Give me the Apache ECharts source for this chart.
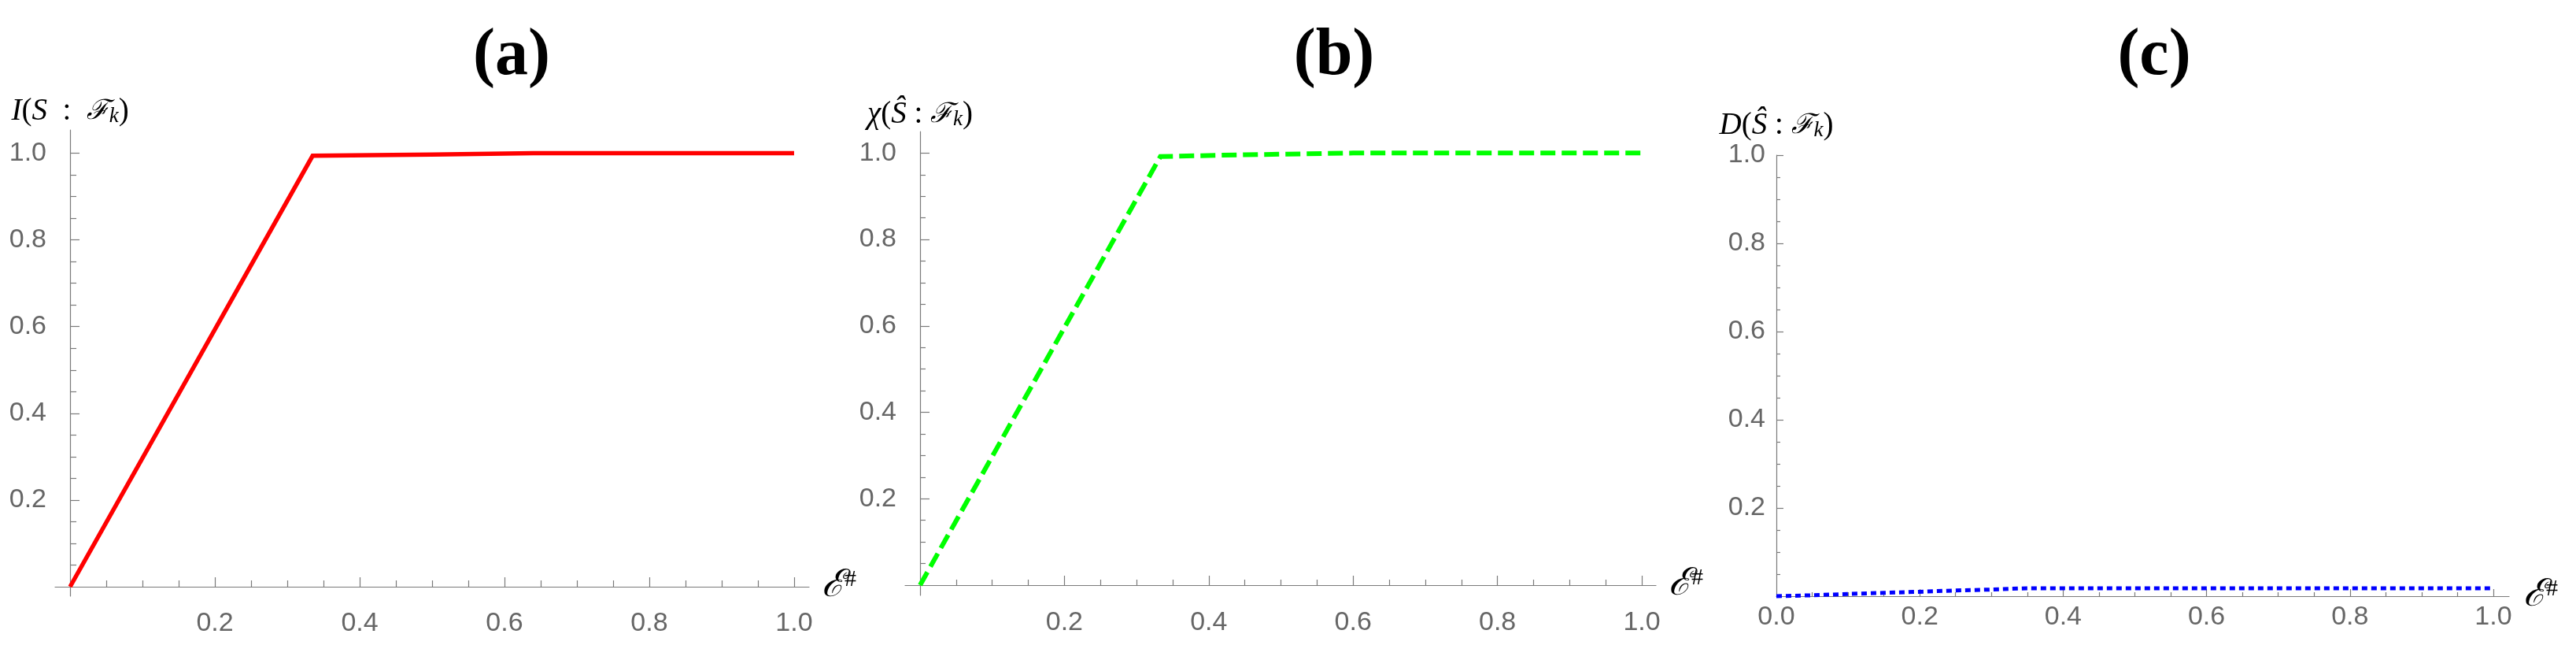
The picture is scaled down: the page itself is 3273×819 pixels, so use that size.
<!DOCTYPE html>
<html>
<head>
<meta charset="utf-8">
<script src="https://cdn.jsdelivr.net/npm/echarts@6/dist/echarts.min.js"></script>
<style>
html,body{margin:0;padding:0;background:#fff;}
#chart{width:3273px;height:819px;}
</style>
</head>
<body>
<div id="chart"></div>
<script>
// ---- data ----
const panelTitles = ['(a)', '(b)', '(c)'];

const redX = [0, 0.335, 0.5, 0.64, 1.0];
const redY = [0, 0.994, 0.997, 1.0, 1.0];

const greenX = [0, 0.333, 0.45, 0.6, 1.0];
const greenY = [0, 0.992, 0.996, 1.0, 1.0];

const blueX = [0, 0.05, 0.1, 0.15, 0.2, 0.25, 0.3, 0.35, 0.5, 0.75, 1.0];
const blueY = [0, 0.002, 0.005, 0.0075, 0.010, 0.013, 0.015, 0.018, 0.018, 0.018, 0.018];

const majorTicks = [0.2, 0.4, 0.6, 0.8, 1.0];
const minorTicks = [0.05, 0.1, 0.15, 0.25, 0.3, 0.35, 0.45, 0.5, 0.55, 0.65, 0.7, 0.75, 0.85, 0.9, 0.95];
const labelsAB = [0.2, 0.4, 0.6, 0.8, 1.0];
const labelsCX = [0, 0.2, 0.4, 0.6, 0.8, 1.0];
const labelsCY = [0.2, 0.4, 0.6, 0.8, 1.0];

function pairs(xs, ys) { return xs.map((x, i) => [x, ys[i]]); }

// ---- styling helpers ----
const GRAY_LINE = '#7a7a7a';
const GRAY_TEXT = '#666666';
const mathRich = {
  i: { fontFamily: '"Liberation Serif","DejaVu Serif",serif', fontStyle: 'italic', fontSize: 39, color: '#000' },
  r: { fontFamily: '"Liberation Serif","DejaVu Serif",serif', fontSize: 39, color: '#000' },
  s: { fontFamily: '"DejaVu Serif","Liberation Serif",serif', fontStyle: 'italic', fontSize: 35, color: '#000' },
  sub: { fontFamily: '"Liberation Serif","DejaVu Serif",serif', fontStyle: 'italic', fontSize: 27, color: '#000', verticalAlign: 'bottom' },
  e: { fontFamily: '"DejaVu Serif","Liberation Serif",serif', fontStyle: 'italic', fontSize: 48, color: '#000' },
  sup: { fontFamily: '"Liberation Serif","DejaVu Serif",serif', fontSize: 30, color: '#000', verticalAlign: 'top' }
};
const xName = '{e|ℰ}{sup|#}';

const panels = [
  { grid: { left: 70, top: 165, width: 958, height: 592 },
    xMin: -0.0207, xMax: 1.0207, yMin: -0.0218, yMax: 1.0536,
    xLabels: labelsAB, yLabels: labelsAB,
    yName: '{i|I}{r|(}{i|S}{r|  :  }{s|ℱ}{sub|k}{r|)}', yNameGap: 4,
    majorLen: 12, minorLen: 8, xLabelMargin: 18, yLabelMargin: 11, xNameGap: 16 },
  { grid: { left: 1150, top: 167, width: 954, height: 589 },
    xMin: -0.0207, xMax: 1.0196, yMin: -0.0237, yMax: 1.0498,
    xLabels: labelsAB, yLabels: labelsAB,
    yName: '{i|χ}{r|(}{i|Ŝ}{r| : }{s|ℱ}{sub|k}{r|)}', yNameGap: 2,
    majorLen: 12, minorLen: 7, xLabelMargin: 18, yLabelMargin: 11, xNameGap: 16 },
  { grid: { left: 2257, top: 197, width: 931, height: 560 },
    xMin: 0, xMax: 1.022, yMin: 0, yMax: 1.0,
    xLabels: labelsCX, yLabels: labelsCY,
    yName: '{i|D}{r|(}{i|Ŝ}{r| : }{s|ℱ}{sub|k}{r|)}', yNameGap: 18,
    majorLen: 9, minorLen: 5, xLabelMargin: 10, yLabelMargin: 14, xNameGap: 18 }
];

const seriesDefs = [
  { data: pairs(redX, redY), color: '#ff0000', width: 5.5, type: 'solid' },
  { data: pairs(greenX, greenY), color: '#00ff00', width: 6, type: [19, 8] },
  { data: pairs(blueX, blueY), color: '#0000ff', width: 5, type: [7, 5] }
];

const grids = [], xAxes = [], yAxes = [], series = [], graphics = [];
const titleCenters = [650, 1695, 2737];

panels.forEach((p, g) => {
  grids.push(p.grid);
  const xi = xAxes.length, yi = yAxes.length;
  xAxes.push({
    type: 'value', gridIndex: g, min: p.xMin, max: p.xMax, position: 'bottom',
    axisLine: { show: true, onZero: true, onZeroAxisIndex: yi, lineStyle: { color: GRAY_LINE, width: 1.2 } },
    axisTick: { show: true, inside: true, length: p.majorLen, customValues: majorTicks, lineStyle: { color: GRAY_LINE, width: 1.2 } },
    axisLabel: { show: true, customValues: p.xLabels, margin: p.xLabelMargin, color: GRAY_TEXT,
      fontFamily: '"Liberation Sans", Arial, sans-serif', fontSize: 34,
      formatter: v => Number(v).toFixed(1) },
    splitLine: { show: false },
    name: xName, nameLocation: 'end', nameGap: p.xNameGap,
    nameTextStyle: { rich: mathRich, verticalAlign: 'middle', align: 'left' }
  });
  xAxes.push({
    type: 'value', gridIndex: g, min: p.xMin, max: p.xMax, position: 'bottom',
    axisLine: { show: false, onZero: true, onZeroAxisIndex: yi + 1 },
    axisTick: { show: true, inside: true, length: p.minorLen, customValues: minorTicks, lineStyle: { color: GRAY_LINE, width: 1.2 } },
    axisLabel: { show: false }, splitLine: { show: false }
  });
  yAxes.push({
    type: 'value', gridIndex: g, min: p.yMin, max: p.yMax, position: 'left',
    axisLine: { show: true, onZero: true, onZeroAxisIndex: xi, lineStyle: { color: GRAY_LINE, width: 1.2 } },
    axisTick: { show: true, inside: true, length: p.majorLen, customValues: majorTicks, lineStyle: { color: GRAY_LINE, width: 1.2 } },
    axisLabel: { show: true, customValues: p.yLabels, margin: p.yLabelMargin, color: GRAY_TEXT,
      fontFamily: '"Liberation Sans", Arial, sans-serif', fontSize: 34,
      formatter: v => Number(v).toFixed(1) },
    splitLine: { show: false },
    name: p.yName, nameLocation: 'end', nameGap: p.yNameGap,
    nameTextStyle: { rich: mathRich, align: 'center', verticalAlign: 'bottom' }
  });
  yAxes.push({
    type: 'value', gridIndex: g, min: p.yMin, max: p.yMax, position: 'left',
    axisLine: { show: false, onZero: true, onZeroAxisIndex: xi + 1 },
    axisTick: { show: true, inside: true, length: p.minorLen, customValues: minorTicks, lineStyle: { color: GRAY_LINE, width: 1.2 } },
    axisLabel: { show: false }, splitLine: { show: false }
  });
  const s = seriesDefs[g];
  series.push({
    type: 'line', xAxisIndex: xi, yAxisIndex: yi, data: s.data,
    showSymbol: false, symbol: 'none', smooth: false, clip: false,
    lineStyle: { color: s.color, width: s.width, type: s.type, cap: 'butt', join: 'miter' },
    emphasis: { disabled: true }
  });
  graphics.push({
    type: 'text', x: titleCenters[g], y: 72,
    style: { text: panelTitles[g], align: 'center', verticalAlign: 'middle',
      fontFamily: '"Liberation Serif","DejaVu Serif",serif', fontWeight: 'bold', fontSize: 84, fill: '#000' }
  });
});

const chart = echarts.init(document.getElementById('chart'), null, { renderer: 'canvas' });
chart.setOption({
  animation: false,
  backgroundColor: '#ffffff',
  grid: grids,
  xAxis: xAxes,
  yAxis: yAxes,
  series: series,
  graphic: graphics
});
</script>
</body>
</html>
